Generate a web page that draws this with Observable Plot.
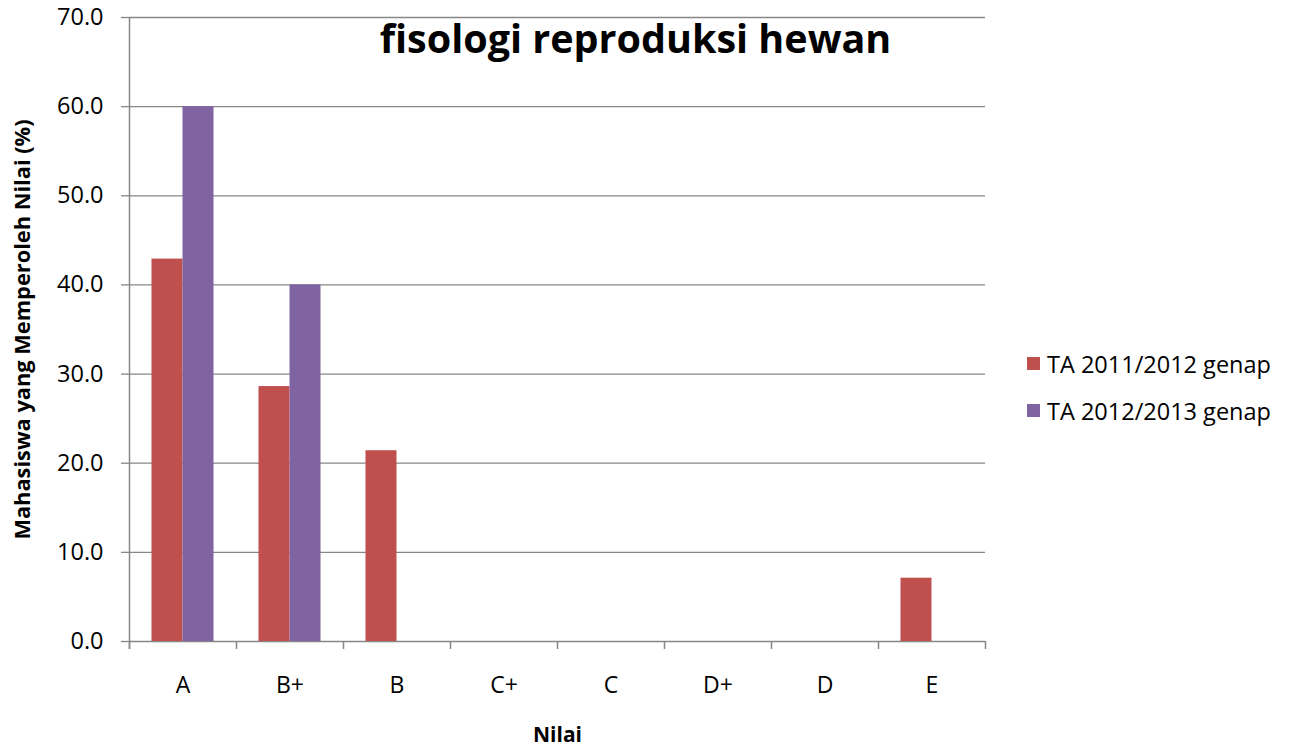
<!DOCTYPE html>
<html>
<head>
<meta charset="utf-8">
<script src="https://cdn.jsdelivr.net/npm/d3@7"></script>
<script src="https://cdn.jsdelivr.net/npm/@observablehq/plot@0.6"></script>
<style>
  html, body { margin: 0; padding: 0; background: #fff; }
  #wrap { position: relative; width: 1292px; height: 750px; font-family: "Open Sans", Lato, sans-serif; }
  #legend { position: absolute; left: 1027px; top: 340px; font-size: 23.5px; color: #000; }
  #legend .item { display: flex; align-items: center; height: 47px; }
  #legend .sw { width: 13px; height: 13px; margin-right: 7px; }
</style>
</head>
<body>
<div id="wrap"></div>
<script>
const categories = ["A", "B+", "B", "C+", "C", "D+", "D", "E"];
const series = ["TA 2011/2012 genap", "TA 2012/2013 genap"];
const values2011 = [42.9, 28.6, 21.4, 0, 0, 0, 0, 7.1];
const values2013 = [60.0, 40.0, 0, 0, 0, 0, 0, 0];
const colors = ["#C0504D", "#8064A2"];
const yTicks = [0, 10, 20, 30, 40, 50, 60, 70];
const title = "fisologi reproduksi hewan";
const yLabel = "Mahasiswa yang Memperoleh Nilai (%)";
const xLabel = "Nilai";

const W = 1292, H = 750;
const mL = 129, mR = 307, mT = 17, mB = 109;
const step = (W - mL - mR) / categories.length;
const barW = step / 3.45;
const gap = (step - 2 * barW) / 2;
const pxPerUnit = (H - mT - mB) / 70;
const tickLen = 8;
const grid = "#878787";

const rows = [];
categories.forEach((c, i) => {
  rows.push({cat: c, s: series[0], v: values2011[i]});
  rows.push({cat: c, s: series[1], v: values2013[i]});
});

const plot = Plot.plot({
  width: W, height: H,
  marginLeft: mL, marginRight: mR, marginTop: mT, marginBottom: mB,
  style: {fontFamily: "'Open Sans', Lato, sans-serif", background: "#fff", color: "#000", overflow: "visible"},
  x: {domain: categories, type: "band", padding: 0, axis: null},
  y: {domain: [0, 70], axis: null},
  color: {domain: series, range: colors},
  marks: [
    Plot.ruleY(yTicks, {stroke: grid, strokeWidth: 1.3}),
    Plot.axisY({ticks: yTicks, tickFormat: d => d.toFixed(1), tickSize: tickLen, tickPadding: 18, fontSize: 23.5, stroke: grid, strokeWidth: 1.3, strokeOpacity: 1, label: null}),
    Plot.ruleX([categories[0]], {dx: -step / 2, y1: 70, y2: -tickLen / pxPerUnit, stroke: grid, strokeWidth: 1.5}),
    Plot.ruleX(categories, {dx: -step / 2, y1: 0, y2: -tickLen / pxPerUnit, stroke: grid, strokeWidth: 1.5}),
    Plot.ruleX([categories[categories.length - 1]], {dx: step / 2, y1: 0, y2: -tickLen / pxPerUnit, stroke: grid, strokeWidth: 1.5}),
    Plot.barY(rows.filter(d => d.s === series[0]), {x: "cat", y: "v", fill: "s", insetLeft: gap, insetRight: step - gap - barW}),
    Plot.barY(rows.filter(d => d.s === series[1]), {x: "cat", y: "v", fill: "s", insetLeft: gap + barW, insetRight: gap}),
    Plot.text(categories, {x: d => d, y: 0, dy: 44, fontSize: 23, lineAnchor: "middle"}),
    Plot.text([xLabel], {frameAnchor: "bottom", dy: 94, fontSize: 21, fontWeight: "bold", lineAnchor: "middle"}),
    Plot.text([yLabel], {frameAnchor: "left", dx: -106, rotate: -90, textAnchor: "middle", fontSize: 21.8, fontWeight: "bold", lineAnchor: "middle"}),
    Plot.text([title], {frameAnchor: "top", dx: 78, dy: 7, fontSize: 39.5, fontWeight: "bold", lineAnchor: "top"})
  ]
});

const wrap = document.getElementById("wrap");
wrap.appendChild(plot);

const legend = document.createElement("div");
legend.id = "legend";
series.forEach((s, i) => {
  const item = document.createElement("div");
  item.className = "item";
  const sw = document.createElement("div");
  sw.className = "sw";
  sw.style.background = colors[i];
  const t = document.createElement("span");
  t.textContent = s;
  item.appendChild(sw);
  item.appendChild(t);
  legend.appendChild(item);
});
wrap.appendChild(legend);
</script>
</body>
</html>
